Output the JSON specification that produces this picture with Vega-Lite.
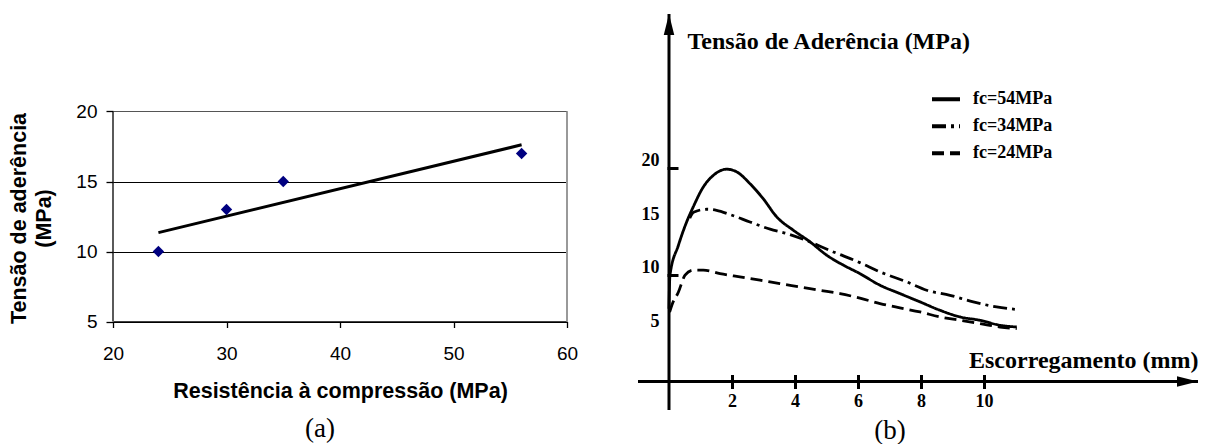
{
  "$schema": "https://vega.github.io/schema/vega-lite/v6.json",
  "background": "white",
  "padding": {"left": 8, "top": 12, "right": 0, "bottom": 0},
  "spacing": 58,
  "resolve": {"legend": {"strokeDash": "independent"}},
  "config": {"view": {"stroke": null}, "axis": {"labelOverlap": false, "labelFlush": false}},
  "hconcat": [
    {
      "width": 454,
      "height": 396,
      "title": {"text": "(a)", "orient": "bottom", "anchor": "middle", "frame": "group", "font": "Liberation Serif", "fontSize": 27, "fontWeight": "normal", "color": "black", "baseline": "top", "offset": 6, "dx": -20},
      "layer": [
        {
          "data": {"values": [{"fc": 24, "tau": 11.35}, {"fc": 56, "tau": 17.62}]},
          "mark": {"type": "line", "color": "black", "strokeWidth": 3},
          "encoding": {
            "x": {"field": "fc", "type": "quantitative", "scale": {"domain": [20, 60], "nice": false, "zero": false},
              "axis": {"values": [20, 30, 40, 50, 60], "offset": -88.5, "domainColor": "black", "domainWidth": 1.3, "tickColor": "black", "tickSize": 6, "tickWidth": 1.3, "labelFont": "Liberation Sans", "labelFontSize": 19, "labelColor": "black", "labelPadding": 16.5, "grid": false, "title": "Resistência à compressão (MPa)", "titleFont": "Liberation Sans", "titleFontSize": 21.5, "titleFontWeight": "bold", "titleColor": "black", "titleBaseline": "alphabetic", "titleY": 75.5}},
            "y": {"field": "tau", "type": "quantitative", "scale": {"domain": [-1.321, 26.964], "nice": false, "zero": false},
              "axis": {"values": [5, 10, 15, 20], "domain": false, "tickColor": "black", "tickSize": 7, "tickWidth": 1.3, "labelFont": "Liberation Sans", "labelFontSize": 19, "labelPadding": 9, "labelColor": "black", "grid": true, "gridColor": {"condition": {"test": "datum.value === 20", "value": "#555555"}, "value": "black"}, "gridWidth": 1.2, "title": ["Tensão de aderência", "(MPa)"], "titleFont": "Liberation Sans", "titleFontSize": 21.5, "titleFontWeight": "bold", "titleColor": "black", "titleAngle": -90, "titleAlign": "center", "titleBaseline": "middle", "titleX": -93.5, "titleY": 204, "titleLineHeight": 25}}
          }
        },
        {
          "data": {"values": [{"fc": 24, "tau": 10}, {"fc": 30, "tau": 13}, {"fc": 35, "tau": 15}, {"fc": 56, "tau": 17}]},
          "mark": {"type": "point", "shape": "diamond", "filled": true, "color": "#000080", "opacity": 1, "size": 130},
          "encoding": {
            "x": {"field": "fc", "type": "quantitative"},
            "y": {"field": "tau", "type": "quantitative"}
          }
        },
        {
          "data": {"values": [{}]},
          "mark": {"type": "rule", "color": "black", "strokeWidth": 1.3},
          "encoding": {"x": {"datum": 20, "type": "quantitative"}, "y": {"datum": 5, "type": "quantitative"}, "y2": {"datum": 20}}
        },
        {
          "data": {"values": [{}]},
          "mark": {"type": "rule", "color": "#999999", "strokeWidth": 2},
          "encoding": {"x": {"datum": 60, "type": "quantitative"}, "y": {"datum": 5, "type": "quantitative"}, "y2": {"datum": 20}}
        }
      ]
    },
    {
      "width": 560,
      "height": 396,
      "title": {"text": "(b)", "orient": "bottom", "anchor": "middle", "frame": "group", "font": "Liberation Serif", "fontSize": 27, "fontWeight": "normal", "color": "black", "baseline": "top", "offset": 6, "dx": -28},
      "layer": [
        {
          "data": {"values": [
            {"curve": "fc=54MPa", "s": 0.0, "tau": 6.8},
            {"curve": "fc=54MPa", "s": 0.03, "tau": 9.95},
            {"curve": "fc=54MPa", "s": 0.3, "tau": 12.76},
            {"curve": "fc=54MPa", "s": 0.56, "tau": 14.94},
            {"curve": "fc=54MPa", "s": 0.77, "tau": 16.35},
            {"curve": "fc=54MPa", "s": 1.09, "tau": 18.22},
            {"curve": "fc=54MPa", "s": 1.41, "tau": 19.31},
            {"curve": "fc=54MPa", "s": 1.83, "tau": 19.88},
            {"curve": "fc=54MPa", "s": 2.15, "tau": 19.63},
            {"curve": "fc=54MPa", "s": 2.57, "tau": 18.53},
            {"curve": "fc=54MPa", "s": 2.99, "tau": 17.12},
            {"curve": "fc=54MPa", "s": 3.42, "tau": 15.41},
            {"curve": "fc=54MPa", "s": 3.95, "tau": 14.16},
            {"curve": "fc=54MPa", "s": 4.48, "tau": 13.07},
            {"curve": "fc=54MPa", "s": 5.01, "tau": 11.82},
            {"curve": "fc=54MPa", "s": 5.5, "tau": 10.95},
            {"curve": "fc=54MPa", "s": 6.06, "tau": 10.1},
            {"curve": "fc=54MPa", "s": 6.7, "tau": 9.01},
            {"curve": "fc=54MPa", "s": 7.33, "tau": 8.23},
            {"curve": "fc=54MPa", "s": 7.97, "tau": 7.45},
            {"curve": "fc=54MPa", "s": 8.6, "tau": 6.67},
            {"curve": "fc=54MPa", "s": 9.24, "tau": 6.04},
            {"curve": "fc=54MPa", "s": 9.87, "tau": 5.73},
            {"curve": "fc=54MPa", "s": 10.51, "tau": 5.26},
            {"curve": "fc=54MPa", "s": 11.04, "tau": 5.1},
            {"curve": "fc=34MPa", "s": 0.66, "tau": 15.3},
            {"curve": "fc=34MPa", "s": 0.78, "tau": 15.85},
            {"curve": "fc=34MPa", "s": 1.2, "tau": 16.13},
            {"curve": "fc=34MPa", "s": 1.51, "tau": 16.03},
            {"curve": "fc=34MPa", "s": 1.94, "tau": 15.63},
            {"curve": "fc=34MPa", "s": 2.57, "tau": 14.94},
            {"curve": "fc=34MPa", "s": 3.21, "tau": 14.26},
            {"curve": "fc=34MPa", "s": 3.74, "tau": 13.85},
            {"curve": "fc=34MPa", "s": 4.26, "tau": 13.32},
            {"curve": "fc=34MPa", "s": 5.22, "tau": 12.13},
            {"curve": "fc=34MPa", "s": 6.06, "tau": 11.13},
            {"curve": "fc=34MPa", "s": 6.7, "tau": 10.26},
            {"curve": "fc=34MPa", "s": 7.55, "tau": 9.32},
            {"curve": "fc=34MPa", "s": 8.18, "tau": 8.54},
            {"curve": "fc=34MPa", "s": 8.92, "tau": 8.07},
            {"curve": "fc=34MPa", "s": 9.66, "tau": 7.45},
            {"curve": "fc=34MPa", "s": 10.4, "tau": 6.98},
            {"curve": "fc=34MPa", "s": 10.98, "tau": 6.76},
            {"curve": "fc=24MPa", "s": 0.02, "tau": 6.5},
            {"curve": "fc=24MPa", "s": 0.09, "tau": 7.14},
            {"curve": "fc=24MPa", "s": 0.3, "tau": 8.38},
            {"curve": "fc=24MPa", "s": 0.51, "tau": 9.95},
            {"curve": "fc=24MPa", "s": 0.77, "tau": 10.42},
            {"curve": "fc=24MPa", "s": 1.09, "tau": 10.42},
            {"curve": "fc=24MPa", "s": 1.62, "tau": 10.1},
            {"curve": "fc=24MPa", "s": 2.25, "tau": 9.79},
            {"curve": "fc=24MPa", "s": 2.89, "tau": 9.48},
            {"curve": "fc=24MPa", "s": 3.52, "tau": 9.16},
            {"curve": "fc=24MPa", "s": 4.16, "tau": 8.85},
            {"curve": "fc=24MPa", "s": 4.79, "tau": 8.54},
            {"curve": "fc=24MPa", "s": 5.43, "tau": 8.23},
            {"curve": "fc=24MPa", "s": 6.06, "tau": 7.8},
            {"curve": "fc=24MPa", "s": 6.7, "tau": 7.29},
            {"curve": "fc=24MPa", "s": 7.33, "tau": 6.89},
            {"curve": "fc=24MPa", "s": 7.97, "tau": 6.51},
            {"curve": "fc=24MPa", "s": 8.6, "tau": 6.04},
            {"curve": "fc=24MPa", "s": 9.24, "tau": 5.73},
            {"curve": "fc=24MPa", "s": 9.87, "tau": 5.42},
            {"curve": "fc=24MPa", "s": 10.51, "tau": 5.1},
            {"curve": "fc=24MPa", "s": 11.04, "tau": 4.95}
          ]},
          "mark": {"type": "line", "color": "black", "strokeWidth": 2.8, "interpolate": "monotone"},
          "encoding": {
            "x": {"field": "s", "type": "quantitative", "scale": {"domain": [-0.984, 16.794], "nice": false, "zero": false},
              "axis": {"values": [2, 4, 6, 8, 10], "domain": false, "offset": -35.5, "tickSize": 14, "tickWidth": 3, "tickColor": "black", "labelFont": "Liberation Serif", "labelFontWeight": "bold", "labelFontSize": 18, "labelPadding": 4, "labelColor": "black", "grid": false, "title": "Escorregamento (mm)", "titleFont": "Liberation Serif", "titleFontSize": 24, "titleFontWeight": "bold", "titleColor": "black", "titleAlign": "right", "titleX": 560, "titleY": -7.5, "titleBaseline": "alphabetic"}},
            "y": {"field": "tau", "type": "quantitative", "scale": {"domain": [-2.676, 34.42], "nice": false, "zero": false},
              "axis": {"values": [5, 10, 15, 20], "domain": false, "offset": -29, "tickSize": -11, "tickWidth": 3, "tickColor": {"condition": {"test": "datum.value === 20 || datum.value === 10", "value": "black"}, "value": "transparent"}, "labelFont": "Liberation Serif", "labelFontWeight": "bold", "labelFontSize": 18, "labelPadding": 19, "labelOffset": -7, "labelColor": "black", "grid": false, "title": "Tensão de Aderência (MPa)", "titleFont": "Liberation Serif", "titleFontSize": 24, "titleFontWeight": "bold", "titleColor": "black", "titleAngle": 0, "titleAlign": "left", "titleBaseline": "alphabetic", "titleX": 20, "titleY": 34.7}},
            "strokeDash": {"field": "curve", "type": "nominal",
              "scale": {"domain": ["fc=54MPa", "fc=34MPa", "fc=24MPa"], "range": [[1, 0], [14, 5, 3, 5], [12, 6]]},
              "legend": {"orient": "none", "legendX": 292, "legendY": 72, "title": null, "symbolType": "stroke", "symbolSize": 784, "symbolStrokeWidth": 4, "symbolStrokeColor": "black", "labelFont": "Liberation Serif", "labelFontSize": 18, "labelFontWeight": "bold", "labelColor": "black", "labelOffset": 11, "rowPadding": 0, "clipHeight": 26.5, "padding": 0}}
          }
        },
        {
          "data": {"values": [{}]},
          "mark": {"type": "rule", "color": "black", "strokeWidth": 3},
          "encoding": {"y": {"datum": 0, "type": "quantitative"}}
        },
        {
          "data": {"values": [{}]},
          "mark": {"type": "rule", "color": "black", "strokeWidth": 3},
          "encoding": {"x": {"datum": 0, "type": "quantitative"}}
        },
        {
          "data": {"values": [{}]},
          "mark": {"type": "point", "shape": "M0,0L-2,-0.5L-2,0.5Z", "filled": true, "color": "black", "opacity": 1, "size": 441},
          "encoding": {"x": {"datum": 16.794, "type": "quantitative"}, "y": {"datum": 0, "type": "quantitative"}}
        },
        {
          "data": {"values": [{}]},
          "mark": {"type": "point", "shape": "M0,0L-0.5,2L0.5,2Z", "filled": true, "color": "black", "opacity": 1, "size": 441},
          "encoding": {"x": {"datum": 0, "type": "quantitative"}, "y": {"datum": 34.42, "type": "quantitative"}}
        }
      ]
    }
  ]
}
